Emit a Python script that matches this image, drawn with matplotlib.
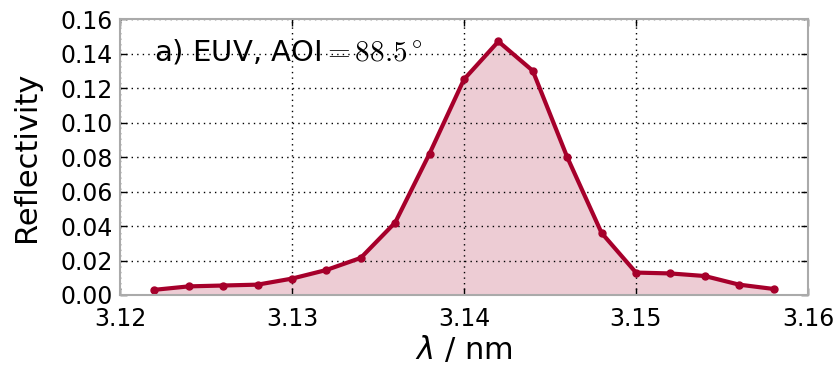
import matplotlib
matplotlib.use("Agg")
import matplotlib.pyplot as plt
import numpy as np

plt.rcParams['font.family'] = 'DejaVu Sans'
plt.rcParams['mathtext.fontset'] = 'cm'

wavelength = [3.122, 3.124, 3.126, 3.128, 3.130, 3.132, 3.134, 3.136, 3.138, 3.140,
              3.142, 3.144, 3.146, 3.148, 3.150, 3.152, 3.154, 3.156, 3.158]
reflectivity = [0.003, 0.005, 0.0055, 0.006, 0.0095, 0.0145, 0.0215, 0.042, 0.082, 0.125,
                0.147, 0.130, 0.080, 0.036, 0.013, 0.0125, 0.011, 0.006, 0.0035]

xticks = [3.12, 3.13, 3.14, 3.15, 3.16]
yticks = [0.00, 0.02, 0.04, 0.06, 0.08, 0.10, 0.12, 0.14, 0.16]

color = "#a6002b"


def main():
    fig = plt.figure(figsize=(8.39, 3.66), dpi=100)
    ax = fig.add_axes([0.143, 0.194, 0.82, 0.754])

    ax.fill_between(wavelength, reflectivity, 0, color=color, alpha=0.2, linewidth=0)
    ax.plot(wavelength, reflectivity, marker="o", markersize=5, linestyle="-",
            linewidth=3, color=color)

    ax.set_xlim(3.12, 3.16)
    ax.set_ylim(0, 0.16)
    ax.set_xticks(xticks)
    ax.set_xticklabels([f"{t:.2f}" for t in xticks])
    ax.set_yticks(yticks)
    ax.set_yticklabels([f"{t:.2f}" for t in yticks])

    ax.tick_params(direction="in", top=True, right=True, length=5, width=1,
                   labelsize=17)
    ax.tick_params(axis="y", pad=5)
    ax.tick_params(axis="x", pad=9)
    for s in ax.spines.values():
        s.set_color("#aaaaaa")
        s.set_linewidth(1.5)

    ax.grid(True, color="black", linestyle=(0, (1, 3)), linewidth=1)

    ax.set_xlabel(r"$\lambda$ / nm", fontsize=22, math_fontfamily="dejavusans",
                  labelpad=2)
    ax.set_ylabel("Reflectivity", fontsize=22, labelpad=14)

    ax.text(0.05, 0.88, r"a) EUV, AOI$=88.5^\circ$", transform=ax.transAxes,
            fontsize=21, va="center", ha="left")

    fig.savefig("out.png", dpi=100)


if __name__ == "__main__":
    main()
